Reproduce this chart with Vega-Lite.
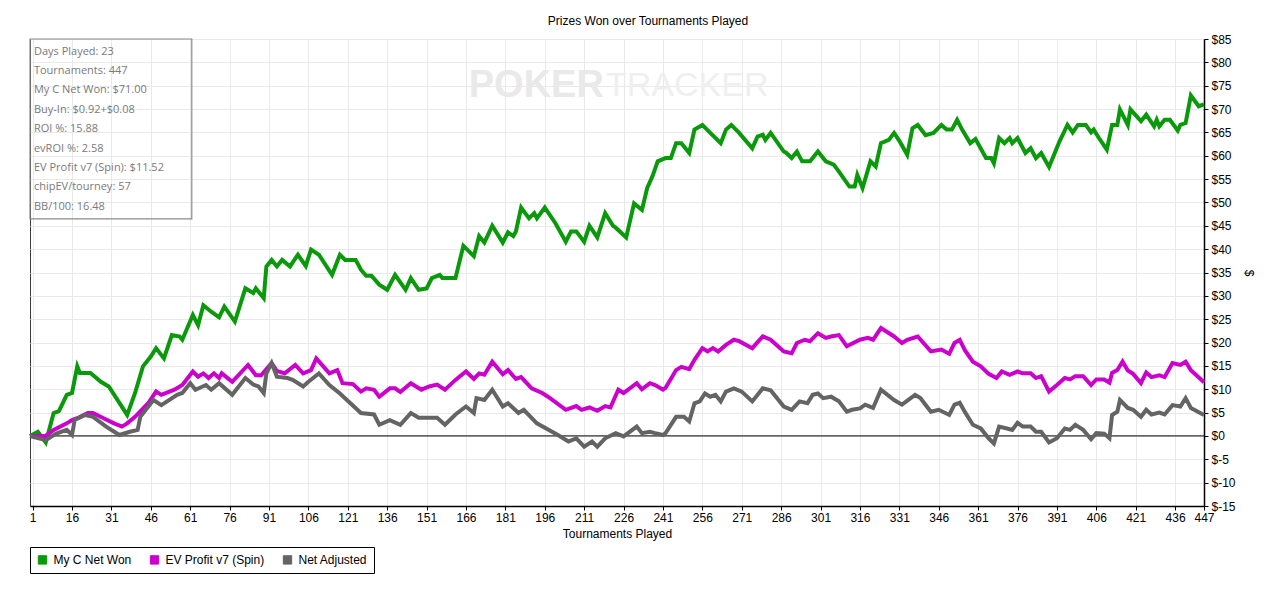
{
  "$schema": "https://vega.github.io/schema/vega-lite/v6.json",
  "autosize": {"type": "none"},
  "padding": {"left": 30, "top": 39, "right": 76, "bottom": 87},
  "width": 1174,
  "height": 467,
  "background": "white",
  "title": {
    "text": "Prizes Won over Tournaments Played",
    "font": "Liberation Sans",
    "fontSize": 12,
    "fontWeight": "normal",
    "color": "#000000",
    "offset": 5,
    "dx": 31
  },
  "datasets": {
    "netWon": [
      {"t": 0, "v": 0}, {"t": 3, "v": 0.9}, {"t": 6, "v": -1.4}, {"t": 9, "v": 4.9}, {"t": 11, "v": 5.3},
      {"t": 14, "v": 8.8}, {"t": 16, "v": 9.2}, {"t": 18, "v": 14.9}, {"t": 19, "v": 13.5}, {"t": 23, "v": 13.5},
      {"t": 27, "v": 11.6}, {"t": 30, "v": 10.6}, {"t": 37, "v": 4.5}, {"t": 40, "v": 9.2}, {"t": 43, "v": 14.9},
      {"t": 46, "v": 17}, {"t": 48, "v": 18.8}, {"t": 51, "v": 16.6}, {"t": 54, "v": 21.6}, {"t": 57, "v": 21.3},
      {"t": 58, "v": 20.6}, {"t": 62, "v": 25.9}, {"t": 64, "v": 23.7}, {"t": 66, "v": 28}, {"t": 69, "v": 26.6},
      {"t": 72, "v": 25.4}, {"t": 74, "v": 27.7}, {"t": 78, "v": 24.5}, {"t": 82, "v": 31.6}, {"t": 85, "v": 30.6},
      {"t": 86, "v": 31.6}, {"t": 89, "v": 29.5}, {"t": 90, "v": 36.3}, {"t": 92, "v": 37.7}, {"t": 94, "v": 36.3},
      {"t": 96, "v": 37.7}, {"t": 99, "v": 36.3}, {"t": 102, "v": 38.8}, {"t": 105, "v": 36.4}, {"t": 107, "v": 39.9},
      {"t": 110, "v": 38.8}, {"t": 115, "v": 34.5}, {"t": 118, "v": 38.8}, {"t": 120, "v": 37.7}, {"t": 124, "v": 37.7},
      {"t": 126, "v": 35.6}, {"t": 128, "v": 34.3}, {"t": 130, "v": 34.3}, {"t": 133, "v": 32.4}, {"t": 136, "v": 31.3},
      {"t": 139, "v": 34.5}, {"t": 143, "v": 31.3}, {"t": 145, "v": 33.8}, {"t": 148, "v": 31.3}, {"t": 151, "v": 31.6},
      {"t": 153, "v": 33.8}, {"t": 156, "v": 34.5}, {"t": 157, "v": 33.8}, {"t": 162, "v": 33.8}, {"t": 165, "v": 40.7},
      {"t": 169, "v": 38.5}, {"t": 171, "v": 42.8}, {"t": 173, "v": 41.4}, {"t": 176, "v": 45}, {"t": 180, "v": 41.4},
      {"t": 182, "v": 43.6}, {"t": 184, "v": 42.8}, {"t": 185, "v": 43.8}, {"t": 187, "v": 48.9}, {"t": 190, "v": 46.6},
      {"t": 192, "v": 47.7}, {"t": 193, "v": 46.6}, {"t": 196, "v": 48.9}, {"t": 200, "v": 45.6}, {"t": 204, "v": 41.6},
      {"t": 206, "v": 43.8}, {"t": 208, "v": 43.8}, {"t": 211, "v": 41.6}, {"t": 213, "v": 45}, {"t": 216, "v": 42.5},
      {"t": 219, "v": 47.7}, {"t": 222, "v": 45}, {"t": 223, "v": 44.6}, {"t": 227, "v": 42.5}, {"t": 230, "v": 49.8},
      {"t": 233, "v": 48.4}, {"t": 235, "v": 53.1}, {"t": 237, "v": 55.6}, {"t": 239, "v": 58.8}, {"t": 242, "v": 59.5},
      {"t": 244, "v": 59.5}, {"t": 246, "v": 62.7}, {"t": 248, "v": 62.7}, {"t": 251, "v": 60.6}, {"t": 253, "v": 65.6},
      {"t": 256, "v": 66.6}, {"t": 259, "v": 64.9}, {"t": 263, "v": 62.7}, {"t": 265, "v": 65.6}, {"t": 267, "v": 66.6},
      {"t": 270, "v": 64.9}, {"t": 275, "v": 61.6}, {"t": 277, "v": 64.1}, {"t": 279, "v": 64.5}, {"t": 280, "v": 63.4},
      {"t": 282, "v": 64.9}, {"t": 287, "v": 60.9}, {"t": 288, "v": 60.6}, {"t": 290, "v": 59.5}, {"t": 292, "v": 60.9},
      {"t": 294, "v": 58.8}, {"t": 297, "v": 58.8}, {"t": 300, "v": 60.9}, {"t": 303, "v": 58.8}, {"t": 306, "v": 58.1},
      {"t": 308, "v": 56.6}, {"t": 312, "v": 53.4}, {"t": 314, "v": 53.4}, {"t": 315, "v": 55.9}, {"t": 317, "v": 53.1},
      {"t": 320, "v": 58.8}, {"t": 322, "v": 57.7}, {"t": 324, "v": 62.7}, {"t": 327, "v": 63.4}, {"t": 329, "v": 64.9},
      {"t": 331, "v": 63.2}, {"t": 334, "v": 60.2}, {"t": 336, "v": 65.9}, {"t": 338, "v": 66.6}, {"t": 341, "v": 64.4},
      {"t": 344, "v": 64.9}, {"t": 347, "v": 66.6}, {"t": 349, "v": 65.6}, {"t": 351, "v": 65.6}, {"t": 353, "v": 67.7},
      {"t": 355, "v": 65.5}, {"t": 358, "v": 62.7}, {"t": 360, "v": 63.6}, {"t": 364, "v": 59.5}, {"t": 366, "v": 59.5},
      {"t": 367, "v": 58.4}, {"t": 369, "v": 63.8}, {"t": 371, "v": 62.7}, {"t": 373, "v": 63.8}, {"t": 374, "v": 62.7},
      {"t": 376, "v": 63.8}, {"t": 379, "v": 60.6}, {"t": 381, "v": 61.6}, {"t": 383, "v": 59.5}, {"t": 385, "v": 60.6},
      {"t": 388, "v": 57.6}, {"t": 392, "v": 63.1}, {"t": 395, "v": 66.6}, {"t": 397, "v": 65}, {"t": 399, "v": 66.6},
      {"t": 402, "v": 66.6}, {"t": 404, "v": 65}, {"t": 405, "v": 65.6}, {"t": 407, "v": 63.8}, {"t": 410, "v": 61.3},
      {"t": 412, "v": 66.6}, {"t": 414, "v": 66.6}, {"t": 415, "v": 69.9}, {"t": 418, "v": 66.6}, {"t": 419, "v": 69.9},
      {"t": 423, "v": 67.4}, {"t": 425, "v": 68.8}, {"t": 428, "v": 66.3}, {"t": 429, "v": 67.7}, {"t": 430, "v": 66.3},
      {"t": 432, "v": 67.7}, {"t": 434, "v": 67.7}, {"t": 437, "v": 65.4}, {"t": 438, "v": 66.6}, {"t": 440, "v": 67},
      {"t": 442, "v": 72.9}, {"t": 445, "v": 70.6}, {"t": 447, "v": 71}
    ],
    "evProfit": [
      {"t": 0, "v": 0}, {"t": 6, "v": 0}, {"t": 9, "v": 1.3}, {"t": 14, "v": 2.7}, {"t": 16, "v": 3.4},
      {"t": 18, "v": 3.8}, {"t": 22, "v": 4.9}, {"t": 24, "v": 4.9}, {"t": 28, "v": 3.8}, {"t": 32, "v": 2.7},
      {"t": 35, "v": 2}, {"t": 37, "v": 2.7}, {"t": 40, "v": 4.1}, {"t": 45, "v": 7}, {"t": 48, "v": 9.5},
      {"t": 50, "v": 8.8}, {"t": 55, "v": 9.9}, {"t": 58, "v": 10.9}, {"t": 62, "v": 13.8}, {"t": 64, "v": 12.7},
      {"t": 66, "v": 13.4}, {"t": 68, "v": 12.4}, {"t": 70, "v": 13.4}, {"t": 72, "v": 12.4}, {"t": 73, "v": 13.4},
      {"t": 77, "v": 11.6}, {"t": 83, "v": 15.2}, {"t": 86, "v": 13}, {"t": 88, "v": 13}, {"t": 92, "v": 15.6},
      {"t": 94, "v": 13.9}, {"t": 97, "v": 13.4}, {"t": 101, "v": 15.2}, {"t": 104, "v": 13.4}, {"t": 107, "v": 14.1},
      {"t": 109, "v": 16.6}, {"t": 114, "v": 13.4}, {"t": 117, "v": 14.1}, {"t": 119, "v": 11.3}, {"t": 123, "v": 11.1},
      {"t": 126, "v": 9.5}, {"t": 128, "v": 10.2}, {"t": 131, "v": 9.9}, {"t": 133, "v": 8.4}, {"t": 137, "v": 10.2},
      {"t": 139, "v": 10.2}, {"t": 141, "v": 9.4}, {"t": 145, "v": 11.3}, {"t": 149, "v": 9.9}, {"t": 152, "v": 10.6},
      {"t": 155, "v": 11}, {"t": 158, "v": 9.9}, {"t": 162, "v": 12}, {"t": 166, "v": 13.8}, {"t": 169, "v": 12.2},
      {"t": 171, "v": 13.4}, {"t": 173, "v": 13.1}, {"t": 176, "v": 15.9}, {"t": 180, "v": 13.2}, {"t": 182, "v": 14.1},
      {"t": 185, "v": 12.2}, {"t": 187, "v": 12.6}, {"t": 191, "v": 10.2}, {"t": 195, "v": 9.2}, {"t": 198, "v": 8.1},
      {"t": 204, "v": 5.6}, {"t": 208, "v": 6.4}, {"t": 210, "v": 5.6}, {"t": 213, "v": 6.1}, {"t": 216, "v": 5.4},
      {"t": 219, "v": 6.4}, {"t": 221, "v": 6.1}, {"t": 224, "v": 9.9}, {"t": 226, "v": 9.2}, {"t": 231, "v": 11.3},
      {"t": 233, "v": 10}, {"t": 236, "v": 11.3}, {"t": 238, "v": 10.9}, {"t": 241, "v": 9.9}, {"t": 242, "v": 10.3},
      {"t": 246, "v": 14.1}, {"t": 248, "v": 14.8}, {"t": 251, "v": 14.3}, {"t": 253, "v": 16.3}, {"t": 256, "v": 18.8},
      {"t": 258, "v": 18.1}, {"t": 260, "v": 18.8}, {"t": 262, "v": 18.1}, {"t": 265, "v": 19.5}, {"t": 268, "v": 20.6},
      {"t": 270, "v": 20.3}, {"t": 275, "v": 18.8}, {"t": 279, "v": 21.3}, {"t": 282, "v": 20.6}, {"t": 287, "v": 18.1},
      {"t": 290, "v": 17.7}, {"t": 292, "v": 19.9}, {"t": 295, "v": 20.6}, {"t": 297, "v": 20.3}, {"t": 300, "v": 22},
      {"t": 303, "v": 21}, {"t": 305, "v": 21.3}, {"t": 308, "v": 21.6}, {"t": 311, "v": 19.2}, {"t": 316, "v": 20.6},
      {"t": 319, "v": 21}, {"t": 321, "v": 20.6}, {"t": 324, "v": 23.1}, {"t": 329, "v": 21.3}, {"t": 332, "v": 19.9},
      {"t": 334, "v": 20.6}, {"t": 338, "v": 21.3}, {"t": 343, "v": 18.1}, {"t": 347, "v": 18.5}, {"t": 350, "v": 17.6},
      {"t": 352, "v": 19.9}, {"t": 354, "v": 20.6}, {"t": 356, "v": 18.3}, {"t": 359, "v": 15.9}, {"t": 362, "v": 14.9},
      {"t": 365, "v": 13.3}, {"t": 368, "v": 12.4}, {"t": 370, "v": 13.8}, {"t": 373, "v": 13.1}, {"t": 376, "v": 13.8},
      {"t": 378, "v": 13.4}, {"t": 381, "v": 13.4}, {"t": 383, "v": 12.4}, {"t": 385, "v": 12.8}, {"t": 388, "v": 9.5},
      {"t": 391, "v": 10.9}, {"t": 394, "v": 12.4}, {"t": 396, "v": 12.1}, {"t": 398, "v": 12.8}, {"t": 401, "v": 12.8},
      {"t": 404, "v": 10.9}, {"t": 406, "v": 12.1}, {"t": 409, "v": 12.1}, {"t": 411, "v": 11.4}, {"t": 412, "v": 13.5},
      {"t": 414, "v": 14.1}, {"t": 416, "v": 15.9}, {"t": 418, "v": 14}, {"t": 420, "v": 13.3}, {"t": 423, "v": 11.3},
      {"t": 425, "v": 13.6}, {"t": 427, "v": 12.6}, {"t": 430, "v": 13}, {"t": 432, "v": 12.6}, {"t": 435, "v": 15.6},
      {"t": 438, "v": 15.2}, {"t": 440, "v": 15.9}, {"t": 442, "v": 14.1}, {"t": 447, "v": 11.5}
    ],
    "netAdjusted": [
      {"t": 0, "v": 0}, {"t": 6, "v": -0.9}, {"t": 10, "v": 0.5}, {"t": 14, "v": 1.3}, {"t": 16, "v": 0.2},
      {"t": 17, "v": 3.4}, {"t": 21, "v": 4.5}, {"t": 24, "v": 4.1}, {"t": 29, "v": 2}, {"t": 34, "v": 0.2},
      {"t": 38, "v": 0.9}, {"t": 41, "v": 1.3}, {"t": 42, "v": 4.1}, {"t": 47, "v": 7.7}, {"t": 50, "v": 6.6},
      {"t": 56, "v": 8.8}, {"t": 58, "v": 9.2}, {"t": 61, "v": 11.3}, {"t": 63, "v": 9.9}, {"t": 67, "v": 10.9},
      {"t": 69, "v": 9.9}, {"t": 72, "v": 11.3}, {"t": 77, "v": 8.8}, {"t": 82, "v": 12.4}, {"t": 85, "v": 11},
      {"t": 87, "v": 10.6}, {"t": 89, "v": 9.2}, {"t": 90, "v": 13.4}, {"t": 92, "v": 15.6}, {"t": 94, "v": 12.7},
      {"t": 98, "v": 12.4}, {"t": 100, "v": 12}, {"t": 104, "v": 10.6}, {"t": 106, "v": 11.6}, {"t": 110, "v": 13.4},
      {"t": 114, "v": 10.9}, {"t": 118, "v": 9.1}, {"t": 122, "v": 7}, {"t": 126, "v": 4.9}, {"t": 131, "v": 4.6},
      {"t": 133, "v": 2.4}, {"t": 137, "v": 3.4}, {"t": 141, "v": 2.4}, {"t": 145, "v": 4.9}, {"t": 148, "v": 3.9},
      {"t": 152, "v": 3.9}, {"t": 155, "v": 3.9}, {"t": 158, "v": 2.4}, {"t": 162, "v": 4.6}, {"t": 166, "v": 6.3},
      {"t": 169, "v": 4.9}, {"t": 170, "v": 8.1}, {"t": 173, "v": 7.7}, {"t": 176, "v": 9.9}, {"t": 180, "v": 6.3},
      {"t": 182, "v": 7}, {"t": 186, "v": 4.9}, {"t": 188, "v": 5.6}, {"t": 193, "v": 2.7}, {"t": 201, "v": 0.2},
      {"t": 205, "v": -1.2}, {"t": 208, "v": -0.5}, {"t": 211, "v": -2.3}, {"t": 214, "v": -1.2}, {"t": 216, "v": -2.3},
      {"t": 219, "v": -0.5}, {"t": 223, "v": 0.6}, {"t": 226, "v": -0.1}, {"t": 231, "v": 2}, {"t": 233, "v": 0.6},
      {"t": 236, "v": 0.9}, {"t": 238, "v": 0.6}, {"t": 241, "v": 0.2}, {"t": 242, "v": 0.6}, {"t": 246, "v": 4.1},
      {"t": 249, "v": 4.1}, {"t": 251, "v": 3.1}, {"t": 253, "v": 7}, {"t": 255, "v": 7.4}, {"t": 257, "v": 9.1},
      {"t": 259, "v": 8.4}, {"t": 261, "v": 8.8}, {"t": 263, "v": 7.4}, {"t": 265, "v": 9.5}, {"t": 268, "v": 10.2},
      {"t": 271, "v": 9.5}, {"t": 275, "v": 7.4}, {"t": 279, "v": 10.2}, {"t": 282, "v": 9.8}, {"t": 287, "v": 6.3},
      {"t": 290, "v": 5.6}, {"t": 293, "v": 7.4}, {"t": 296, "v": 7}, {"t": 298, "v": 8.8}, {"t": 300, "v": 9.1},
      {"t": 302, "v": 8.1}, {"t": 305, "v": 8.4}, {"t": 308, "v": 7.4}, {"t": 311, "v": 5.2}, {"t": 313, "v": 5.6},
      {"t": 316, "v": 5.9}, {"t": 318, "v": 6.7}, {"t": 321, "v": 6}, {"t": 324, "v": 9.9}, {"t": 329, "v": 7.7},
      {"t": 332, "v": 6.7}, {"t": 337, "v": 8.8}, {"t": 339, "v": 8.1}, {"t": 343, "v": 5.2}, {"t": 346, "v": 5.6},
      {"t": 350, "v": 4.5}, {"t": 352, "v": 6.7}, {"t": 354, "v": 7.1}, {"t": 356, "v": 5.1}, {"t": 359, "v": 2.4},
      {"t": 362, "v": 1.6}, {"t": 365, "v": -0.5}, {"t": 367, "v": -1.6}, {"t": 369, "v": 2}, {"t": 372, "v": 1.6},
      {"t": 374, "v": 1.3}, {"t": 376, "v": 2.8}, {"t": 378, "v": 2}, {"t": 381, "v": 2}, {"t": 383, "v": 0.9},
      {"t": 385, "v": 0.9}, {"t": 388, "v": -1.4}, {"t": 391, "v": -0.5}, {"t": 394, "v": 1.6}, {"t": 396, "v": 1.3},
      {"t": 398, "v": 2.4}, {"t": 401, "v": 1.3}, {"t": 404, "v": -0.7}, {"t": 406, "v": 0.6}, {"t": 409, "v": 0.5},
      {"t": 411, "v": -0.5}, {"t": 412, "v": 4.5}, {"t": 414, "v": 5.2}, {"t": 415, "v": 7.7}, {"t": 418, "v": 6},
      {"t": 420, "v": 5.6}, {"t": 423, "v": 4.1}, {"t": 425, "v": 5.6}, {"t": 427, "v": 4.6}, {"t": 430, "v": 5},
      {"t": 432, "v": 4.6}, {"t": 435, "v": 6.6}, {"t": 438, "v": 6.3}, {"t": 440, "v": 8.1}, {"t": 442, "v": 6},
      {"t": 447, "v": 4.5}
    ]
  },
  "layer": [
    {
      "data": {"values": [{}]},
      "mark": {"type": "text", "font": "Liberation Sans", "fontSize": 38, "fontWeight": "bold", "align": "right", "baseline": "middle", "color": "#e9e9e9"},
      "encoding": {
        "x": {
          "datum": 218.5,
          "type": "quantitative",
          "scale": {"domain": [0, 447], "nice": false, "zero": false},
          "axis": {
            "title": "Tournaments Played",
            "grid": true,
            "tickCount": 100,
            "values": [1, 16, 31, 46, 61, 76, 91, 106, 121, 136, 151, 166, 181, 196, 211, 226, 241, 256, 271, 286, 301, 316, 331, 346, 361, 376, 391, 406, 421, 436, 447],
            "labelFlush": false,
            "labelOverlap": false
          }
        },
        "y": {
          "datum": 75,
          "type": "quantitative",
          "scale": {"domain": [-15, 85], "nice": false, "zero": false},
          "axis": {
            "orient": "right",
            "title": "$",
            "grid": true,
            "tickCount": 100,
            "titleAngle": 90,
            "titlePadding": 6,
            "values": [-15, -10, -5, 0, 5, 10, 15, 20, 25, 30, 35, 40, 45, 50, 55, 60, 65, 70, 75, 80, 85],
            "labelExpr": "'$' + datum.value",
            "labelFlush": false,
            "labelOverlap": false
          }
        },
        "text": {"value": "POKER"}
      }
    },
    {
      "data": {"values": [{}]},
      "mark": {"type": "text", "font": "Liberation Sans", "fontSize": 34, "align": "left", "baseline": "middle", "color": "#efefef"},
      "encoding": {
        "x": {"datum": 219.3, "type": "quantitative"},
        "y": {"datum": 75, "type": "quantitative"},
        "text": {"value": "TRACKER"}
      }
    },
    {
      "data": {"values": [{}]},
      "mark": {"type": "rule", "color": "#333333", "strokeWidth": 1.2},
      "encoding": {"y": {"datum": 0, "type": "quantitative"}}
    },
    {
      "data": {"name": "netWon"},
      "mark": {"type": "line", "strokeWidth": 4, "strokeJoin": "miter"},
      "encoding": {
        "x": {"field": "t", "type": "quantitative"},
        "y": {"field": "v", "type": "quantitative"},
        "color": {
          "datum": "My C Net Won",
          "type": "nominal",
          "scale": {
            "domain": ["My C Net Won", "EV Profit v7 (Spin)", "Net Adjusted"],
            "range": ["#0a990a", "#cc00cc", "#646464"]
          },
          "legend": {
            "title": null,
            "orient": "none",
            "legendX": 0,
            "legendY": 508,
            "direction": "horizontal",
            "symbolType": "square",
            "symbolSize": 70,
            "symbolStrokeWidth": 1,
            "symbolStrokeColor": "#222222",
            "labelFont": "Liberation Sans",
            "labelFontSize": 12,
            "labelColor": "#000000",
            "labelOffset": 5,
            "columnPadding": 16,
            "padding": 6.5,
            "strokeColor": "#000000",
            "fillColor": "#ffffff",
            "encode": {
              "symbols": {"update": {"fill": {"scale": "color", "field": "value"}, "stroke": {"value": "#222222"}, "strokeWidth": {"value": 1}}}
            }
          }
        }
      }
    },
    {
      "data": {"name": "evProfit"},
      "mark": {"type": "line", "strokeWidth": 4, "strokeJoin": "miter"},
      "encoding": {
        "x": {"field": "t", "type": "quantitative"},
        "y": {"field": "v", "type": "quantitative"},
        "color": {"datum": "EV Profit v7 (Spin)", "type": "nominal"}
      }
    },
    {
      "data": {"name": "netAdjusted"},
      "mark": {"type": "line", "strokeWidth": 4, "strokeJoin": "miter"},
      "encoding": {
        "x": {"field": "t", "type": "quantitative"},
        "y": {"field": "v", "type": "quantitative"},
        "color": {"datum": "Net Adjusted", "type": "nominal"}
      }
    },
    {
      "data": {"values": [{}]},
      "mark": {"type": "rect", "fill": "transparent", "stroke": "#8a8a8a", "strokeWidth": 1.2},
      "encoding": {
        "x": {"datum": 0, "type": "quantitative"},
        "x2": {"datum": 61.6},
        "y": {"datum": 85, "type": "quantitative"},
        "y2": {"datum": 46.5}
      }
    },
    {
      "data": {"values": [{}]},
      "mark": {"type": "text", "font": "Open Sans", "fontSize": 11, "align": "left", "baseline": "top", "lineHeight": 19.4, "color": "#7a7a7a"},
      "encoding": {
        "x": {"datum": 1.5, "type": "quantitative"},
        "y": {"datum": 83.6, "type": "quantitative"},
        "text": {"value": ["Days Played: 23", "Tournaments: 447", "My C Net Won: $71.00", "Buy-In: $0.92+$0.08", "ROI %: 15.88", "evROI %: 2.58", "EV Profit v7 (Spin): $11.52", "chipEV/tourney: 57", "BB/100: 16.48"]}
      }
    }
  ],
  "config": {
    "view": {"stroke": "#3c3c3c", "strokeWidth": 1},
    "axis": {
      "grid": true,
      "labelOverlap": false,
      "labelFont": "Liberation Sans",
      "labelFontSize": 12,
      "labelColor": "#000000",
      "titleFont": "Liberation Sans",
      "titleFontSize": 12,
      "titleFontWeight": "normal",
      "titleColor": "#000000",
      "domainColor": "#000000",
      "domainWidth": 1.5,
      "tickColor": "#000000",
      "tickSize": 4,
      "gridColor": "#e9e9e9",
      "gridWidth": 1,
      "labelPadding": 2
    },
    "axisX": {"titlePadding": 5},
    "axisY": {"labelPadding": 3}
  }
}
